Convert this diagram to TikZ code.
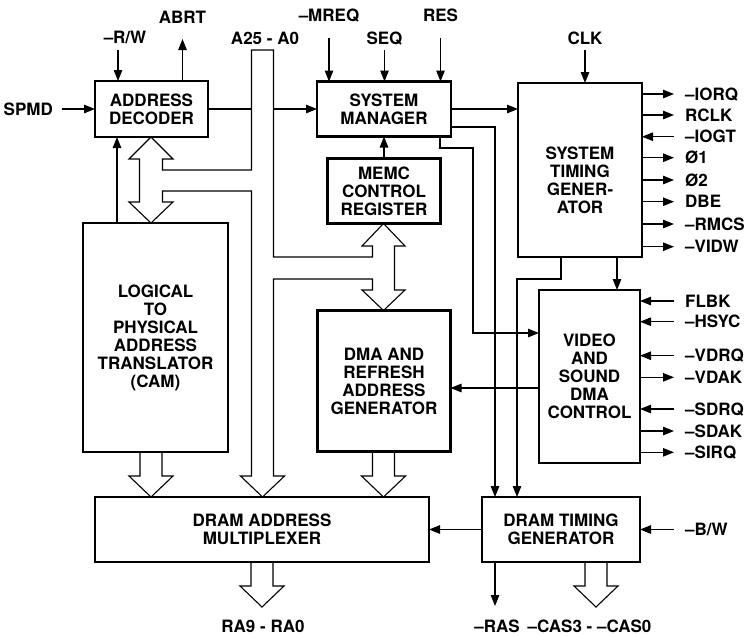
\documentclass[tikz,border=0pt]{standalone}
\usepackage{fontspec}
\setmainfont{TeX Gyre Heros}
\usetikzlibrary{arrows.meta, positioning, calc}
\newcommand{\fatdown}[3]{% centre x, from, to
  \draw[hollow] (#1-11,0 |- #2) -- ($(#1,0 |- #3)+(-11,-21)$) -- ++(-11,0) -- (#1,0 |- #3)
    -- ++(22,-21) -- ++(-11,0) -- (#1+11,0 |- #2);}

\begin{document}
\begin{tikzpicture}[
    x=1pt, y=-1pt,
    font=\bfseries\fontsize{17}{18}\selectfont,
    block/.style={rectangle, draw, line width=2.9pt, outer sep=0pt, inner sep=0pt, align=center},
    sig/.style={inner sep=0pt, text height=12.2pt, text depth=0pt},
    sigr/.style={sig, anchor=west, inner xsep=11pt},
    arr/.style={-{Triangle[length=11pt, width=8.5pt]}, line width=1.1pt},
    wire/.style={line width=1.1pt},
    hollow/.style={line width=1.1pt, line join=miter},
]
    \useasboundingbox (0,0) rectangle (746,635);
    \fill[white] (0,0) rectangle (746,635);

    % Top row
    \node[block, minimum width=113pt, minimum height=56pt] (ad) at (151.5,109) {ADDRESS\\DECODER};
    \node[block, minimum width=134pt, minimum height=55pt, right=109pt of ad] (sm) {SYSTEM\\MANAGER};
    \node[block, minimum width=124pt, minimum height=174pt] (stg) at (580,170) {};
    \node[align=center] (stgtext) at ([yshift=-10pt]stg.center) {SYSTEM\\TIMING\\GENER-\\ATOR};

    % Middle
    \node[block, minimum width=113pt, minimum height=65pt, below=22pt of sm] (memc) {MEMC\\CONTROL\\REGISTER};
    \node[block, minimum width=133pt, minimum height=141pt, below=87pt of memc] (dma) {DMA AND\\REFRESH\\ADDRESS\\GENERATOR};
    \node[block, minimum width=145pt, minimum height=229pt] (cam) at (155.5,337.5) {LOGICAL\\TO\\PHYSICAL\\ADDRESS\\TRANSLATOR\\(CAM)};
    \node[block, minimum width=101pt, minimum height=173pt] (vsdc) at (589.5,376.5) {VIDEO\\AND\\SOUND\\DMA\\CONTROL};

    % Bottom row
    \node[block, minimum width=334pt, minimum height=65pt] (mux) at (262,529.5) {DRAM ADDRESS\\MULTIPLEXER};
    \node[block, minimum width=158pt, minimum height=65pt, right=53pt of mux] (dtg) {DRAM TIMING\\GENERATOR};

    % Pin labels
    \node[sig, anchor=east, inner xsep=9pt] (spmd) at (62,109) {SPMD};
    \node[sig] (rw) at (125,37.7) {\textendash R/W};
    \node[sig] (abrt) at (182.5,17) {ABRT};
    \node[sig] (abus) at (265,38) {A25 - A0};
    \node[sig] (mreq) at (329,15) {\textendash MREQ};
    \node[sig] (seq) at (384.5,38) {SEQ};
    \node[sig] (res) at (440.5,15) {RES};
    \node[sig] (clk) at (585,38) {CLK};

    \node[sigr] (iorq) at (674,94) {\textendash IORQ};
    \node[sigr] (rclk) at (674,115) {RCLK};
    \node[sigr] (iogt) at (674,136.7) {\textendash IOGT};
    \node[sigr] (phia) at (674,157.7) {Ø1};
    \node[sigr] (phib) at (674,180) {Ø2};
    \node[sigr] (dbe) at (674,201.7) {DBE};
    \node[sigr] (rmcs) at (674,224) {\textendash RMCS};
    \node[sigr] (vidw) at (674,246.7) {\textendash VIDW};

    \node[sigr] (flbk) at (674,301) {FLBK};
    \node[sigr] (hsyc) at (674,321.7) {\textendash HSYC};
    \node[sigr] (vdrq) at (674,355.7) {\textendash VDRQ};
    \node[sigr] (vdak) at (674,377.3) {\textendash VDAK};
    \node[sigr] (sdrq) at (674,409) {\textendash SDRQ};
    \node[sigr] (sdak) at (674,431) {\textendash SDAK};
    \node[sigr] (sirq) at (674,452.3) {\textendash SIRQ};
    \node[sigr] (bw) at (674,529.5) {\textendash B/W};

    \node[sig] (ra) at (263,626) {RA9 - RA0};
    \node[sig] (ras) at (497,626) {\textendash RAS};
    \node[sig] (cas) at (589.5,626) {\textendash CAS3 - \textendash CAS0};

    % Address bus with its branches
    \coordinate (busl) at (251.5,50);
    \coordinate (busr) at (273.5,50);
    \coordinate (adtip) at (151,0 |- ad.south);
    \coordinate (camtip) at (151,0 |- cam.north);
    \coordinate (memctip) at (383.5,0 |- memc.south);
    \coordinate (dmatip) at (383.5,0 |- dma.north);
    \coordinate (muxtip) at (262.5,0 |- mux.north);
    \draw[hollow] (busl) -- (251.5,170) -- (162.5,170) -- (162.5,159) -- (173,159) -- (adtip)
        -- (129,159) -- (139.5,159) -- (139.5,202) -- (129,202) -- (camtip) -- (173,202)
        -- (162.5,202) -- (162.5,191) -- (251.5,191) -- (251.5,476) -- (240.5,476) -- (muxtip)
        -- (284.5,476) -- (273.5,476) -- (273.5,279) -- (372.5,279) -- (372.5,290) -- (362,290)
        -- (dmatip) -- (405,290) -- (394.5,290) -- (394.5,246) -- (405,246) -- (memctip)
        -- (362,246) -- (372.5,246) -- (372.5,257) -- (273.5,257) -- (busr) -- cycle;

    % Wide arrows
    \coordinate (raout) at (262,607);
    \coordinate (casout) at (596,607);
    \fatdown{151}{cam.south}{mux.north}
    \fatdown{383.5}{dma.south}{mux.north}
    \fatdown{262}{mux.south}{raout}
    \fatdown{596}{dtg.south}{casout}

    % Inputs from the top
    \draw[arr] (spmd.east) -- (ad.west);
    \draw[arr] ($(rw.center -| 118,0)+(0,12)$) -- (118,0 |- ad.north);
    \draw[arr] (abrt |- ad.north) -- ($(abrt)+(0,22)$);
    \draw[arr] ($(mreq)+(0,23)$) -- (mreq |- sm.north);
    \draw[arr] ($(seq)+(0,12)$) -- (seq |- sm.north);
    \draw[arr] ($(res)+(0,23)$) -- (res |- sm.north);
    \draw[arr] ($(clk)+(0,12)$) -- (clk |- stg.north);

    % Internal connections
    \draw[wire] (ad.east) -- (ad.east -| busl);
    \draw[arr] (sm.west -| busr) -- (sm.west);
    \draw[arr] (117,0 |- cam.north) -- (117,0 |- ad.south);
    \draw[arr] (memc.north) -- (memc.north |- sm.south);
    \draw[arr] (sm.east) -- (sm.east -| stg.west);
    \draw[arr] (sm.east |- 0,127) -| (495,0 |- dtg.north);
    \draw[arr] (440,0 |- sm.south) |- (473,148) |- (vsdc.west |- 0,333);
    \draw[arr] (617,0 |- stg.south) -- (617,0 |- vsdc.north);
    \draw[arr] (561,0 |- stg.south) |- (517,279) -- (517,0 |- dtg.north);
    \draw[arr] (vsdc.west |- 0,388) -- (dma.east |- 0,388);
    \draw[arr] (dtg.west) -- (mux.east);
    \draw[arr] (495,0 |- dtg.south) -- ++(0,44);

    % System timing generator pins
    \draw[arr] (stg.east |- iorq) -- (iorq.west);
    \draw[arr] (stg.east |- rclk) -- (rclk.west);
    \draw[arr] (iogt.west) -- (stg.east |- iogt);
    \draw[arr] (stg.east |- phia) -- (phia.west);
    \draw[arr] (stg.east |- phib) -- (phib.west);
    \draw[arr] (stg.east |- dbe) -- (dbe.west);
    \draw[arr] (stg.east |- rmcs) -- (rmcs.west);
    \draw[arr] (stg.east |- vidw) -- (vidw.west);

    % Video and sound pins
    \draw[arr] (flbk.west) -- (vsdc.east |- flbk);
    \draw[arr] (hsyc.west) -- (vsdc.east |- hsyc);
    \draw[arr] (vdrq.west) -- (vsdc.east |- vdrq);
    \draw[arr] (vsdc.east |- vdak) -- (vdak.west);
    \draw[arr] (sdrq.west) -- (vsdc.east |- sdrq);
    \draw[arr] (vsdc.east |- sdak) -- (sdak.west);
    \draw[arr] (vsdc.east |- sirq) -- (sirq.west);
    \draw[arr] (bw.west) -- (dtg.east);
\end{tikzpicture}
\end{document}
